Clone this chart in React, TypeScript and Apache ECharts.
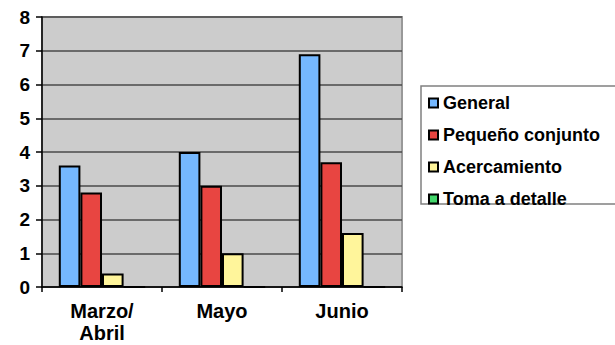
import React, { useEffect, useRef } from "react";
import * as echarts from "echarts";

const categories = ["Marzo/\nAbril", "Mayo", "Junio"];
const seriesNames = ["General", "Pequeño conjunto", "Acercamiento", "Toma a detalle"];
const general = [3.6, 4.0, 6.9];
const pequeno = [2.8, 3.0, 3.7];
const acercamiento = [0.4, 1.0, 1.6];
const tomaDetalle = [0, 0, 0];
const colors = ["#75B8FF", "#E84541", "#FFF59B", "#43D66B"];

export default function App() {
  const ref = useRef<HTMLDivElement>(null);
  useEffect(() => {
    if (!ref.current) return;
    const chart = echarts.init(ref.current, null, { renderer: "svg" });
    const font = "'Liberation Sans', Arial, sans-serif";
    const data = [general, pequeno, acercamiento, tomaDetalle];
    chart.setOption({
      animation: false,
      backgroundColor: "#ffffff",
      textStyle: { fontFamily: font },
      grid: {
        left: 42,
        right: 213,
        top: 17,
        bottom: 58,
        show: true,
        backgroundColor: "#CCCCCC",
        borderColor: "#999999",
        borderWidth: 2,
      },
      graphic: [
        {
          type: "rect",
          shape: { x: 421, y: 86, width: 220, height: 118 },
          style: { fill: "#ffffff", stroke: "#808080", lineWidth: 1.5 },
          z: -1,
        },
      ],
      legend: {
        orient: "vertical",
        left: 428,
        top: 93,
        padding: 0,
        itemWidth: 9,
        itemHeight: 9,
        itemGap: 12,
        icon: "rect",
        data: seriesNames,
        textStyle: {
          fontFamily: font,
          fontWeight: "bold",
          fontSize: 18,
          lineHeight: 20,
          color: "#000",
        },
      },
      xAxis: {
        type: "category",
        data: categories,
        axisLine: { lineStyle: { color: "#000", width: 1.5 } },
        axisTick: { show: true, length: 5, lineStyle: { color: "#000", width: 1.5 } },
        axisLabel: {
          fontFamily: font,
          fontWeight: "bold",
          fontSize: 20,
          lineHeight: 22,
          color: "#000",
          margin: 13,
        },
      },
      yAxis: {
        type: "value",
        min: 0,
        max: 8,
        interval: 1,
        axisLine: { show: true, lineStyle: { color: "#000", width: 1.5 } },
        axisTick: { show: true, length: 6, lineStyle: { color: "#000", width: 1.5 } },
        splitLine: { lineStyle: { color: "#4a4a4a", width: 1.5 } },
        axisLabel: {
          fontFamily: font,
          fontWeight: "bold",
          fontSize: 19,
          color: "#000",
          margin: 12,
        },
      },
      series: seriesNames.map((name, i) => ({
        name,
        type: "bar",
        data: data[i],
        barGap: "0%",
        barCategoryGap: "28%",
        itemStyle: { color: colors[i], borderColor: "#000", borderWidth: 2 },
      })),
    });
    return () => chart.dispose();
  }, []);
  return (
    <div
      ref={ref}
      style={{ position: "fixed", left: 0, top: 0, width: 615, height: 345 }}
    />
  );
}
